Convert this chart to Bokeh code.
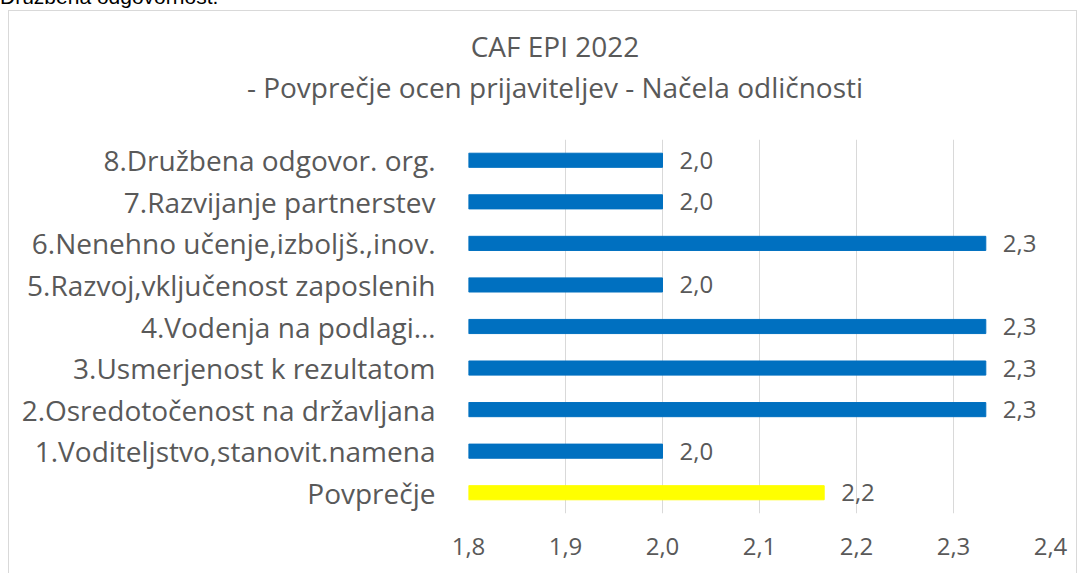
from bokeh.plotting import figure
from bokeh.layouts import column
from bokeh.models import (ColumnDataSource, Range1d, FixedTicker, Div,
                          CustomJSTickFormatter, LabelSet, InlineStyleSheet)
from bokeh.core.properties import value
from bokeh.embed import file_html
from bokeh.resources import INLINE

# ---- data (bottom to top) ----
categories = [
    "Povprečje",
    "1.Voditeljstvo,stanovit.namena",
    "2.Osredotočenost na državljana",
    "3.Usmerjenost k rezultatom",
    "4.Vodenja na podlagi…",
    "5.Razvoj,vključenost zaposlenih",
    "6.Nenehno učenje,izboljš.,inov.",
    "7.Razvijanje partnerstev",
    "8.Družbena odgovor. org.",
]
values = [2.1667, 2.0, 2.3333, 2.3333, 2.3333, 2.0, 2.3333, 2.0, 2.0]
bar_colors = ["#FFFF00"] + ["#0070C0"] * 8
x_ticks = [1.8, 1.9, 2.0, 2.1, 2.2, 2.3, 2.4]
title_line1 = "CAF EPI 2022"
title_line2 = "- Povprečje ocen prijaviteljev - Načela odličnosti"
top_text = "Družbena odgovornost."

pos = list(range(len(categories)))
labels = [f"{v:.1f}".replace(".", ",") for v in values]
src = ColumnDataSource(dict(y=pos, val=values, color=bar_colors, lab=labels))

FONT = "Open Sans"
TXT = "#595959"

# ---- header (titles) ----
header_html = f"""
<div style="position:relative;width:1080px;height:139px;">
  <div style="position:absolute;left:0px;top:-14px;font-family:'Liberation Sans';
       font-size:21px;line-height:21px;color:#000000;white-space:nowrap;">{top_text}</div>
  <div style="position:absolute;left:555px;top:32px;transform:translateX(-50%);
       font-family:'Open Sans';font-size:28px;line-height:28px;color:{TXT};
       white-space:nowrap;">{title_line1}</div>
  <div style="position:absolute;left:555px;top:73px;transform:translateX(-50%);
       font-family:'Open Sans';font-size:28px;line-height:28px;color:{TXT};
       white-space:nowrap;">{title_line2}</div>
</div>
"""
header = Div(text=header_html, width=1080, height=139, margin=(0, 0, 0, 0))

# ---- chart ----
p = figure(width=1080, height=434, y_range=Range1d(-0.5, len(categories) - 0.5),
           x_range=Range1d(1.8, 2.4), output_backend="svg", toolbar_location=None,
           min_border_left=468, min_border_right=30, min_border_top=0,
           min_border_bottom=60, margin=(0, 0, 0, 0))
p.outline_line_color = None
p.background_fill_color = None
p.border_fill_color = None

p.hbar(y="y", left=1.8, right="val", height=0.34, color="color", source=src)

ls = LabelSet(x="val", y="y", text="lab", source=src, x_offset=17,
              text_baseline="middle", text_font=value(FONT), text_font_size="24px",
              text_color=TXT)
p.add_layout(ls)

p.xaxis.ticker = FixedTicker(ticks=x_ticks)
p.xaxis.formatter = CustomJSTickFormatter(code="return tick.toFixed(1).replace('.', ',');")
p.xaxis.axis_line_color = None
p.xaxis.major_tick_line_color = None
p.xaxis.minor_tick_line_color = None
p.xaxis.major_label_standoff = 18
p.xaxis.major_label_text_font = FONT
p.xaxis.major_label_text_font_size = "24px"
p.xaxis.major_label_text_color = TXT

p.yaxis.ticker = FixedTicker(ticks=pos)
p.yaxis.major_label_overrides = {i: c for i, c in zip(pos, categories)}
p.yaxis.axis_line_color = None
p.yaxis.major_tick_line_color = None
p.yaxis.minor_tick_line_color = None
p.yaxis.major_label_standoff = 27
p.yaxis.major_label_text_font = FONT
p.yaxis.major_label_text_font_size = "28px"
p.yaxis.major_label_text_color = TXT

p.xgrid.grid_line_color = "#d9d9d9"
p.ygrid.grid_line_color = None

layout = column(header, p, spacing=0)
layout.stylesheets = [InlineStyleSheet(css="""
:host { position: relative; background: white; }
:host::after { content: ''; position: absolute; left: 8px; top: 10px;
  width: 1069px; height: 700px; border: 1.5px solid #d9d9d9;
  pointer-events: none; box-sizing: border-box; }
""")]

open("out.html", "w").write(file_html(layout, INLINE))
